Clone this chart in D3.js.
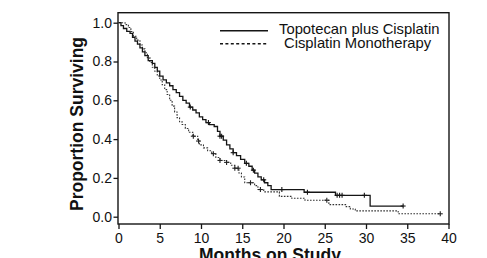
<!DOCTYPE html>
<html>
<head>
<meta charset="utf-8">
<script src="https://cdn.jsdelivr.net/npm/d3@7/dist/d3.min.js"></script>
<style>
  html, body { margin: 0; padding: 0; background: #fff; }
  svg { display: block; }
  text { font-family: "Liberation Sans", Arial, Helvetica, sans-serif; fill: #111; }
</style>
</head>
<body>
<svg id="chart" width="487" height="258"></svg>
<script>
// ---- Data ----
const seriesNames = ["Topotecan plus Cisplatin", "Cisplatin Monotherapy"];

// Topotecan plus Cisplatin: step times (months) and survival after each step
const topoTimes = [0, 0.3, 0.6, 1.0, 1.4, 1.7, 2.0, 2.3, 2.6, 2.9, 3.2, 3.6, 4.1, 4.4, 4.7, 5.0, 5.4, 5.8, 6.2, 6.6, 7.0, 7.4, 7.8, 8.2, 8.6, 9.0, 9.4, 9.8, 10.2, 10.6, 11.0, 11.6, 12.0, 12.3, 12.7, 13.1, 13.5, 13.9, 14.3, 14.8, 15.3, 15.8, 16.2, 16.5, 16.9, 17.3, 17.7, 18.1, 18.5, 22.5, 26.3, 30.5];
const topoSurv  = [1.0, 0.985, 0.97, 0.955, 0.945, 0.925, 0.905, 0.89, 0.87, 0.85, 0.83, 0.805, 0.79, 0.77, 0.75, 0.725, 0.705, 0.69, 0.675, 0.655, 0.64, 0.62, 0.6, 0.585, 0.565, 0.55, 0.535, 0.515, 0.5, 0.485, 0.475, 0.465, 0.44, 0.415, 0.395, 0.37, 0.35, 0.33, 0.315, 0.295, 0.275, 0.26, 0.24, 0.225, 0.205, 0.19, 0.175, 0.16, 0.14, 0.126, 0.11, 0.055];
const topoEnd = 34.5;
const topoCensor = [8.7, 10.9, 12.3, 12.5, 13.9, 15.5, 16.35, 17.6, 19.8, 22.9, 26.5, 26.8, 27.1, 29.8, 34.5];

// Cisplatin Monotherapy
const cisTimes = [0, 0.8, 1.2, 1.5, 1.8, 2.2, 2.6, 2.9, 3.2, 3.5, 3.8, 4.1, 4.4, 4.7, 5.0, 5.3, 5.6, 5.9, 6.2, 6.5, 6.8, 7.1, 7.4, 7.7, 8.1, 8.5, 9.0, 9.6, 9.8, 10.3, 10.8, 11.3, 11.8, 12.3, 13.1, 13.6, 14.1, 14.6, 14.9, 15.3, 16.5, 16.9, 17.6, 19.5, 21.0, 22.6, 25.5, 27.6, 28.1, 28.7, 33.9];
const cisSurv  = [1.0, 0.99, 0.975, 0.955, 0.93, 0.91, 0.885, 0.865, 0.845, 0.82, 0.795, 0.77, 0.75, 0.725, 0.705, 0.68, 0.655, 0.63, 0.6, 0.57, 0.54, 0.51, 0.49, 0.475, 0.455, 0.435, 0.415, 0.39, 0.37, 0.355, 0.34, 0.325, 0.305, 0.29, 0.28, 0.265, 0.25, 0.225, 0.205, 0.175, 0.16, 0.14, 0.128, 0.105, 0.095, 0.085, 0.062, 0.052, 0.04, 0.03, 0.015];
const cisEnd = 39.0;
const cisCensor = [9.07, 9.7, 11.5, 12.3, 13.1, 14.1, 14.5, 16.0, 17.2, 25.25, 39.0];

const xTicks = [0, 5, 10, 15, 20, 25, 30, 35, 40];
const yTicks = [0.0, 0.2, 0.4, 0.6, 0.8, 1.0];
const xTitle = "Months on Study";
const yTitle = "Proportion Surviving";

// ---- Layout ----
const svg = d3.select("#chart");
const frame = { left: 118, right: 449, top: 12.7, bottom: 224 };
const x = d3.scaleLinear().domain([0, 40]).range([118.5, 448.5]);
const y = d3.scaleLinear().domain([0, 1]).range([216.7, 22.7]);
const ink = "#151515";

// frame
svg.append("rect")
  .attr("x", frame.left).attr("y", frame.top)
  .attr("width", frame.right - frame.left).attr("height", frame.bottom - frame.top)
  .attr("fill", "none").attr("stroke", ink).attr("stroke-width", 1.4);

// axes
const yAxis = d3.axisLeft(y).tickValues(yTicks).tickFormat(d3.format(".1f")).tickSize(4.5).tickPadding(1.5);
const gy = svg.append("g").attr("transform", `translate(${frame.left},0)`).call(yAxis);
gy.select(".domain").remove();
gy.selectAll("line").attr("stroke", ink).attr("stroke-width", 1.3);
gy.selectAll("text").attr("font-size", 14).attr("fill", "#111")
  .attr("font-family", '"Liberation Sans", Arial, sans-serif');

const xAxis = d3.axisBottom(x).tickValues(xTicks).tickFormat(d3.format("d")).tickSize(5).tickPadding(4);
const gx = svg.append("g").attr("transform", `translate(0,${frame.bottom})`).call(xAxis);
gx.select(".domain").remove();
gx.selectAll("line").attr("stroke", ink).attr("stroke-width", 1.3);
gx.selectAll("text").attr("font-size", 14).attr("fill", "#111")
  .attr("font-family", '"Liberation Sans", Arial, sans-serif');

// titles
svg.append("text")
  .attr("transform", "translate(83,124) rotate(-90)")
  .attr("text-anchor", "middle")
  .attr("font-size", 17.5).attr("font-weight", "bold")
  .text(yTitle);
svg.append("text")
  .attr("x", 270).attr("y", 260.5)
  .attr("text-anchor", "middle")
  .attr("font-size", 17.5).attr("font-weight", "bold")
  .text(xTitle);

// curves
function stepPoints(times, surv, end) {
  const pts = times.map((t, i) => [t, surv[i]]);
  pts.push([end, surv[surv.length - 1]]);
  return pts;
}
function survAt(times, surv, t) {
  let v = surv[0];
  for (let i = 0; i < times.length; i++) if (times[i] <= t) v = surv[i];
  return v;
}
const line = d3.line().x(d => x(d[0])).y(d => y(d[1])).curve(d3.curveStepAfter);

svg.append("path")
  .attr("d", line(stepPoints(cisTimes, cisSurv, cisEnd)))
  .attr("fill", "none").attr("stroke", "#333").attr("stroke-width", 1.1)
  .attr("stroke-dasharray", "1.6,1.4");

svg.append("path")
  .attr("d", line(stepPoints(topoTimes, topoSurv, topoEnd)))
  .attr("fill", "none").attr("stroke", ink).attr("stroke-width", 1.3);

function censorMarks(times, surv, cens, color) {
  const g = svg.append("g").attr("stroke", color).attr("stroke-width", 1.1);
  cens.forEach(t => {
    const cx = x(t), cy = y(survAt(times, surv, t));
    g.append("line").attr("x1", cx - 2.5).attr("x2", cx + 2.5).attr("y1", cy).attr("y2", cy);
    g.append("line").attr("x1", cx).attr("x2", cx).attr("y1", cy - 2.5).attr("y2", cy + 2.5);
  });
}
censorMarks(topoTimes, topoSurv, topoCensor, ink);
censorMarks(cisTimes, cisSurv, cisCensor, "#222");

// legend
svg.append("line").attr("x1", 220).attr("x2", 268).attr("y1", 30.7).attr("y2", 30.7)
  .attr("stroke", ink).attr("stroke-width", 1.4);
svg.append("text").attr("x", 279).attr("y", 33.8).attr("font-size", 14.8).text(seriesNames[0]);
svg.append("line").attr("x1", 220).attr("x2", 268).attr("y1", 43.7).attr("y2", 43.7)
  .attr("stroke", ink).attr("stroke-width", 1.4).attr("stroke-dasharray", "3,2.4");
svg.append("text").attr("x", 284).attr("y", 47.6).attr("font-size", 14.8).text(seriesNames[1]);
</script>
</body>
</html>
